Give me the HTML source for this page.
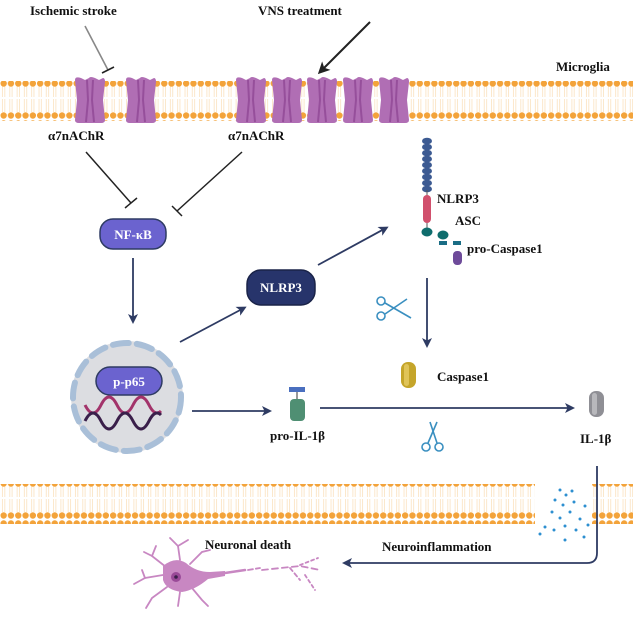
<!DOCTYPE html>
<html><head><meta charset="utf-8"><style>
html,body{margin:0;padding:0;background:#fff}
svg{display:block}
text{font-family:"Liberation Serif",serif;font-weight:bold;font-size:13px;fill:#111}
</style></head><body>
<svg width="633" height="620" viewBox="0 0 633 620" xmlns="http://www.w3.org/2000/svg">
<defs>
<pattern id="mem" x="0" y="0" width="7.3" height="40" patternUnits="userSpaceOnUse">
<line x1="2.5" y1="4" x2="2.5" y2="17" stroke="#f8d7a8" stroke-width="0.6"/>
<line x1="4.8" y1="4" x2="4.8" y2="17" stroke="#f8d7a8" stroke-width="0.6"/>
<line x1="2.5" y1="19" x2="2.5" y2="32" stroke="#f8d7a8" stroke-width="0.6"/>
<line x1="4.8" y1="19" x2="4.8" y2="32" stroke="#f8d7a8" stroke-width="0.6"/>
<circle cx="3.65" cy="3.5" r="3.2" fill="#f3a33a"/>
<circle cx="3.65" cy="35.5" r="3.2" fill="#f3a33a"/>
</pattern>
<g id="rec">
<path d="M0,2 Q0,-2 6,0 L10,2 L14,0 Q15,-2 20,0 L24,2 L28,0 Q30,0 30,4 L28,22 L30,42 Q30,45 26,45 L4,45 Q0,45 0,42 L2,22 Z" fill="#b06eb4"/>
<path d="M12,2 L13,22 L11,44 M18,2 L17,22 L19,44" stroke="#964f9b" stroke-width="2" fill="none"/>
</g>
<marker id="ah" markerWidth="10" markerHeight="10" refX="7" refY="5" orient="auto" markerUnits="userSpaceOnUse"><path d="M0,0 L10,5 L0,10 L2.5,5 Z" fill="#2e3b63"/></marker>
<marker id="ahk" markerWidth="12" markerHeight="12" refX="9" refY="6" orient="auto" markerUnits="userSpaceOnUse"><path d="M0,0 L12,6 L0,12 L3,6 Z" fill="#222"/></marker>
</defs>

<rect x="0" y="81" width="633" height="40" fill="url(#mem)"/>
<use href="#rec" x="75" y="78"/><use href="#rec" x="126" y="78"/>
<use href="#rec" x="236" y="78"/><use href="#rec" x="272" y="78"/><use href="#rec" x="307" y="78"/><use href="#rec" x="343" y="78"/><use href="#rec" x="379" y="78"/>

<rect x="0" y="484" width="535" height="40" fill="url(#mem)"/>
<rect x="592" y="484" width="41" height="40" fill="url(#mem)"/>
<g fill="#2d8fd0">
<circle cx="560" cy="490" r="1.5"/><circle cx="566" cy="495" r="1.5"/><circle cx="572" cy="491" r="1.5"/><circle cx="555" cy="500" r="1.5"/><circle cx="563" cy="505" r="1.5"/><circle cx="574" cy="502" r="1.5"/><circle cx="585" cy="506" r="1.5"/><circle cx="552" cy="512" r="1.5"/><circle cx="560" cy="518" r="1.5"/><circle cx="570" cy="512" r="1.5"/><circle cx="580" cy="519" r="1.5"/><circle cx="545" cy="527" r="1.5"/><circle cx="554" cy="530" r="1.5"/><circle cx="565" cy="526" r="1.5"/><circle cx="576" cy="530" r="1.5"/><circle cx="588" cy="525" r="1.5"/><circle cx="565" cy="540" r="1.5"/><circle cx="584" cy="537" r="1.5"/><circle cx="540" cy="534" r="1.5"/>
</g>

<text x="30" y="15">Ischemic stroke</text>
<text x="258" y="15">VNS treatment</text>
<text x="556" y="71">Microglia</text>
<text x="48" y="140">α7nAChR</text>
<text x="228" y="140">α7nAChR</text>

<line x1="85" y1="26" x2="108" y2="70" stroke="#888" stroke-width="1.6"/>
<line x1="102" y1="73" x2="114" y2="67" stroke="#222" stroke-width="1.6"/>
<line x1="370" y1="22" x2="320" y2="72" stroke="#222" stroke-width="2" marker-end="url(#ahk)"/>

<line x1="86" y1="152" x2="131" y2="203" stroke="#222" stroke-width="1.5"/>
<line x1="125" y1="208" x2="137" y2="198" stroke="#222" stroke-width="1.5"/>
<line x1="242" y1="152" x2="177" y2="211" stroke="#222" stroke-width="1.5"/>
<line x1="172" y1="206" x2="182" y2="216" stroke="#222" stroke-width="1.5"/>

<rect x="100" y="219" width="66" height="30" rx="13" fill="#6b63cf" stroke="#2e3b63" stroke-width="1.5"/>
<text x="133" y="239" text-anchor="middle" style="fill:#fff">NF-κB</text>
<line x1="133" y1="258" x2="133" y2="321" stroke="#2e3b63" stroke-width="1.8" marker-end="url(#ah)"/>

<circle cx="127" cy="397" r="56" fill="#dcdde1"/>
<circle cx="127" cy="397" r="54" fill="none" stroke="#a9bfd8" stroke-width="6" stroke-dasharray="16 8" stroke-linecap="round"/>
<rect x="96" y="367" width="66" height="28" rx="14" fill="#6b63cf" stroke="#2e3b63" stroke-width="1.5"/>
<text x="129" y="386" text-anchor="middle" style="fill:#fff">p-p65</text>
<path d="M85,405 q8,16 16,0 q8,-16 16,0 q8,16 16,0 q8,-16 16,0 q6,12 12,6" stroke="#a2336a" stroke-width="3" fill="none"/>
<path d="M85,421 q8,-16 16,0 q8,16 16,0 q8,-16 16,0 q8,16 16,0 q6,-12 12,-6" stroke="#3a1f4a" stroke-width="3" fill="none"/>

<line x1="180" y1="342" x2="244" y2="308" stroke="#2e3b63" stroke-width="1.8" marker-end="url(#ah)"/>
<rect x="247" y="270" width="68" height="35" rx="14" fill="#27346b" stroke="#1a2348" stroke-width="1.5"/>
<text x="281" y="292" text-anchor="middle" style="fill:#fff">NLRP3</text>
<line x1="318" y1="265" x2="386" y2="228" stroke="#2e3b63" stroke-width="1.8" marker-end="url(#ah)"/>

<g fill="#3c5a92">
<ellipse cx="427" cy="141" rx="5" ry="3.3"/><ellipse cx="427" cy="147" rx="5" ry="3.3"/><ellipse cx="427" cy="153" rx="5" ry="3.3"/><ellipse cx="427" cy="159" rx="5" ry="3.3"/><ellipse cx="427" cy="165" rx="5" ry="3.3"/><ellipse cx="427" cy="171" rx="5" ry="3.3"/><ellipse cx="427" cy="177" rx="5" ry="3.3"/><ellipse cx="427" cy="183" rx="5" ry="3.3"/><ellipse cx="427" cy="189" rx="5" ry="3.3"/>
</g>
<line x1="427" y1="190" x2="427" y2="232" stroke="#555" stroke-width="1"/>
<rect x="423" y="195" width="8" height="28" rx="4" fill="#d1506d"/>
<ellipse cx="427" cy="232" rx="5.5" ry="4.5" fill="#0f6d6d"/>
<ellipse cx="443" cy="235" rx="5.5" ry="4.5" fill="#0f6d6d"/>
<rect x="439" y="241" width="8" height="4" fill="#1a6d85"/>
<rect x="453" y="241" width="8" height="4" fill="#1a6d85"/>
<rect x="453" y="251" width="9" height="14" rx="4" fill="#6e4b9a"/>
<text x="437" y="203">NLRP3</text>
<text x="455" y="225">ASC</text>
<text x="467" y="253">pro-Caspase1</text>

<line x1="427" y1="278" x2="427" y2="345" stroke="#2e3b63" stroke-width="1.8" marker-end="url(#ah)"/>

<g stroke="#3a8fc0" stroke-width="1.6" fill="none">
<circle cx="381" cy="301" r="4"/><circle cx="381" cy="316" r="4"/>
<line x1="385" y1="303" x2="411" y2="318"/><line x1="385" y1="314" x2="407" y2="299"/>
</g>
<g stroke="#3a8fc0" stroke-width="1.6" fill="none">
<circle cx="426" cy="447" r="4"/><circle cx="439" cy="447" r="4"/>
<line x1="428" y1="443" x2="437" y2="422"/><line x1="437" y1="443" x2="430" y2="422"/>
</g>

<rect x="401" y="362" width="15" height="26" rx="7" fill="#c5a52a"/>
<rect x="404" y="364" width="5" height="22" rx="2.5" fill="#e0c458"/>
<text x="437" y="381">Caspase1</text>

<rect x="289" y="387" width="16" height="5" fill="#4a6fbf"/>
<line x1="297" y1="392" x2="297" y2="399" stroke="#555" stroke-width="1.2"/>
<rect x="290" y="399" width="15" height="22" rx="4" fill="#4f8f73"/>
<text x="270" y="440">pro-IL-1β</text>
<line x1="192" y1="411" x2="269" y2="411" stroke="#2e3b63" stroke-width="1.8" marker-end="url(#ah)"/>
<line x1="320" y1="408" x2="572" y2="408" stroke="#2e3b63" stroke-width="1.8" marker-end="url(#ah)"/>

<rect x="589" y="391" width="15" height="26" rx="7" fill="#8f8f95"/>
<rect x="592" y="393" width="5" height="22" rx="2.5" fill="#b8b8bc"/>
<text x="580" y="443">IL-1β</text>

<path d="M597,466 L597,553 Q597,563 587,563 L345,563" stroke="#2e3b63" stroke-width="1.8" fill="none" marker-end="url(#ah)"/>
<text x="382" y="551">Neuroinflammation</text>
<text x="205" y="549">Neuronal death</text>

<g fill="#c887c2" stroke="#c887c2" stroke-linecap="round">
<path d="M163,566 Q175,556 186,563 Q196,572 210,572 L225,571 L225,576 L208,579 Q195,590 182,592 Q166,590 163,580 Z" stroke="none"/>
<g stroke-width="1.8" fill="none">
<path d="M166,567 L152,556 L144,552"/><path d="M152,556 L156,546"/>
<path d="M180,560 L178,546 L170,538"/><path d="M178,546 L188,540"/>
<path d="M190,564 L202,552 L210,550"/>
<path d="M163,575 L145,578 L134,584"/><path d="M145,578 L142,570"/>
<path d="M167,587 L152,598 L146,608"/><path d="M180,592 L178,606"/><path d="M192,588 L202,600 L208,606"/>
<path d="M225,573 L245,570" stroke-width="2.5"/>
<path d="M248,570 L260,568" stroke-dasharray="5 3"/><path d="M262,570 L300,566 L320,570" stroke-dasharray="6 4"/>
<path d="M290,568 L300,580" stroke-dasharray="4 3"/><path d="M300,565 L318,558" stroke-dasharray="3 3"/>
<path d="M305,575 L315,590" stroke-dasharray="3 3"/>
</g>
<circle cx="176" cy="577" r="5" fill="#9a4a98" stroke="none"/>
<circle cx="176" cy="577" r="1.8" fill="#3a1f4a" stroke="none"/>
</g>
</svg>
</body></html>
